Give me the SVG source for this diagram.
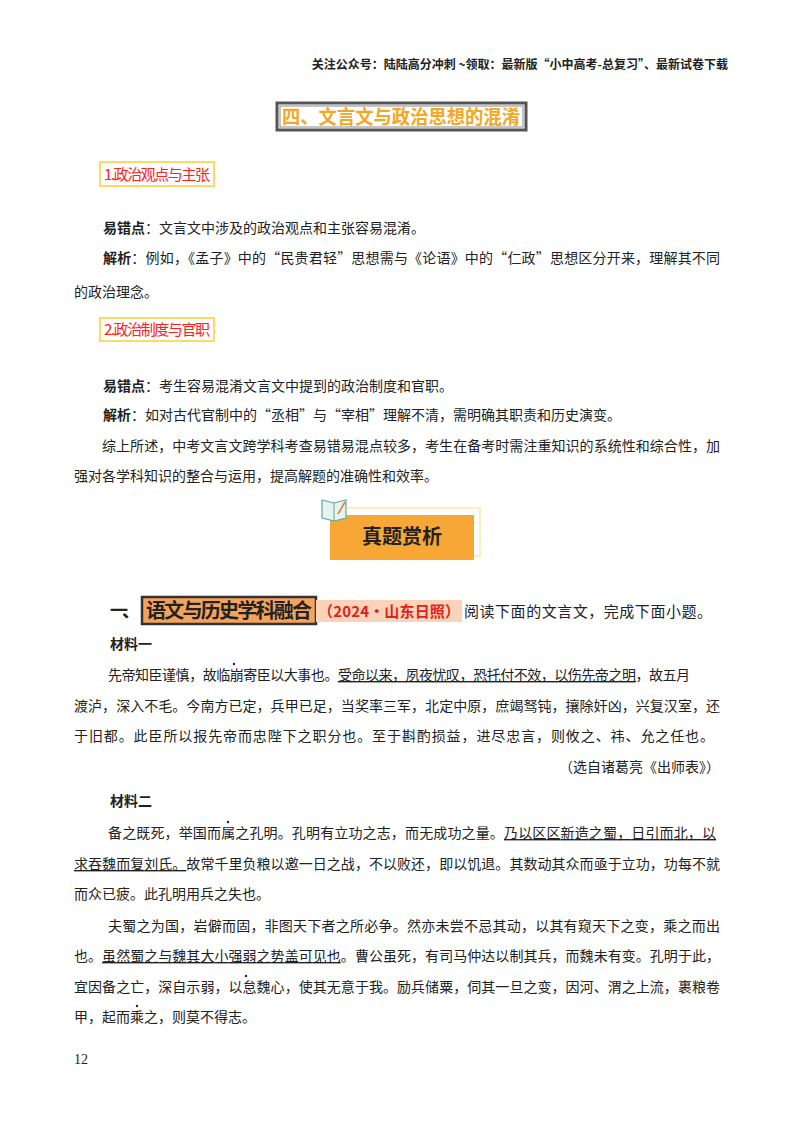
<svg xmlns="http://www.w3.org/2000/svg" width="800" height="1132" viewBox="0 0 800 1132">
<style>
text{font-family:"Noto Sans CJK SC","Noto Sans",sans-serif;fill:#222}
.b{font-size:14px}
.k{font-weight:bold}
.h{font-size:15px;fill:#ff2020}
.u{text-decoration:underline}
.w{text-decoration:underline wavy}
</style>
<rect width="800" height="1132" fill="#fff"/>
<g id="header"><text x="728" y="69" font-size="12" text-anchor="end" class="k">关注公众号：陆陆高分冲刺  ~领取：最新版“小中高考-总复习”、最新试卷下载</text></g>
<g id="title">
<rect x="277" y="103" width="249" height="27" fill="#fff" stroke="#555" stroke-width="3"/>
<rect x="280" y="106" width="243" height="21" fill="none" stroke="#888" stroke-width="1"/>
<text x="401" y="124" font-size="19" font-weight="bold" text-anchor="middle" style="fill:#f5a623" textLength="238" lengthAdjust="spacingAndGlyphs">四、文言文与政治思想的混淆</text>
</g>
<g id="s1"><rect x="100" y="162" width="114" height="24" fill="#fff" stroke="#ffd966" stroke-width="2"/>
<text x="104" y="180" class="h" textLength="106">1.政治观点与主张</text></g>
<text x="103" y="233" class="b"><tspan class="k">易错点</tspan>：文言文中涉及的政治观点和主张容易混淆。</text>
<text x="103" y="263" class="b" textLength="617"><tspan class="k">解析</tspan>：例如，《孟子》中的“民贵君轻”思想需与《论语》中的“仁政”思想区分开来，理解其不同</text>
<text x="74" y="297" class="b">的政治理念。</text>
<g id="s2"><rect x="100" y="318" width="114" height="23" fill="#fff" stroke="#ffd966" stroke-width="2"/>
<text x="104" y="335" class="h" textLength="106">2.政治制度与官职</text></g>
<text x="103" y="391" class="b"><tspan class="k">易错点</tspan>：考生容易混淆文言文中提到的政治制度和官职。</text>
<text x="103" y="420" class="b"><tspan class="k">解析</tspan>：如对古代官制中的“丞相”与“宰相”理解不清，需明确其职责和历史演变。</text>
<text x="102" y="451" class="b" textLength="618">综上所述，中考文言文跨学科考查易错易混点较多，考生在备考时需注重知识的系统性和综合性，加</text>
<text x="74" y="481" class="b">强对各学科知识的整合与运用，提高解题的准确性和效率。</text>
<g id="badge">
<rect x="336" y="508" width="144" height="48" fill="none" stroke="#fde9a8" stroke-width="1.5"/>
<rect x="330" y="515" width="144" height="45" fill="#f7a735"/>
<path d="M322 500 L334 503 L346 500 L346 518 L334 521 L322 518 Z" fill="#e8f3f0" stroke="#5fa8a0" stroke-width="1.2"/>
<line x1="334" y1="503" x2="334" y2="521" stroke="#5fa8a0"/>
<line x1="338" y1="514" x2="345" y2="502" stroke="#e07a30" stroke-width="1.5"/>
<text x="402" y="544" font-size="20" font-weight="bold" text-anchor="middle">真题赏析</text>
</g>
<g id="q">
<text x="110" y="617" font-size="18" class="k" textLength="30">一、</text>
<rect x="142" y="597" width="174" height="27" fill="#f5a35c" stroke="#333" stroke-width="2.5"/>
<text x="146" y="618" font-size="20" class="k" textLength="166">语文与历史学科融合</text>
<rect x="316" y="600" width="146" height="22" fill="#fbd3b8"/>
<text x="318" y="617" font-size="15" class="k" style="fill:#e02020" textLength="142">（2024•山东日照）</text>
<text x="464" y="617" font-size="15" textLength="248">阅读下面的文言文，完成下面小题。</text>
</g>
<text x="110" y="649" class="b k">材料一</text>
<g id="body">
<text x="108" y="680" class="b" textLength="582">先帝知臣谨慎，故临崩寄臣以大事也。<tspan class="u">受命以来，夙夜忧叹，恐托付不效，以伤先帝之明</tspan>，故五月</text>
<text x="74" y="711" class="b" textLength="646">渡泸，深入不毛。今南方已定，兵甲已足，当奖率三军，北定中原，庶竭驽钝，攘除奸凶，兴复汉室，还</text>
<text x="74" y="741" class="b" textLength="640">于旧都。此臣所以报先帝而忠陛下之职分也。至于斟酌损益，进尽忠言，则攸之、祎、允之任也。</text>
<text x="720" y="772" class="b" text-anchor="end">（选自诸葛亮《出师表》）</text>
<text x="110" y="806" class="b k">材料二</text>
<text x="108" y="838" class="b" textLength="608">备之既死，举国而属之孔明。孔明有立功之志，而无成功之量。<tspan class="u">乃以区区新造之蜀，日引而北，以</tspan></text>
<text x="74" y="869" class="b" textLength="646"><tspan class="u">求吞魏而复刘氏。</tspan>故常千里负粮以邀一日之战，不以败还，即以饥退。其数动其众而亟于立功，功每不就</text>
<text x="74" y="899" class="b">而众已疲。此孔明用兵之失也。</text>
<text x="108" y="931" class="b" textLength="612">夫蜀之为国，岩僻而固，非图天下者之所必争。然亦未尝不忌其动，以其有窥天下之变，乘之而出</text>
<text x="74" y="961" class="b" textLength="646">也。<tspan class="w">虽然蜀之与魏其大小强弱之势盖可见也</tspan>。曹公虽死，有司马仲达以制其兵，而魏未有变。孔明于此，</text>
<text x="74" y="992" class="b" textLength="646">宜因备之亡，深自示弱，以怠魏心，使其无意于我。励兵储粟，伺其一旦之变，因河、渭之上流，裹粮卷</text>
<text x="74" y="1022" class="b">甲，起而乘之，则莫不得志。</text>
</g>
<g id="marks" fill="#222">
<circle cx="234" cy="664" r="1.2"/>
<circle cx="228" cy="822" r="1.2"/>
<circle cx="246" cy="976" r="1.2"/>
<circle cx="137" cy="1006" r="1.2"/>
</g>
<text x="74" y="1064" font-size="14" style="font-family:'Liberation Serif',serif">12</text>
</svg>
